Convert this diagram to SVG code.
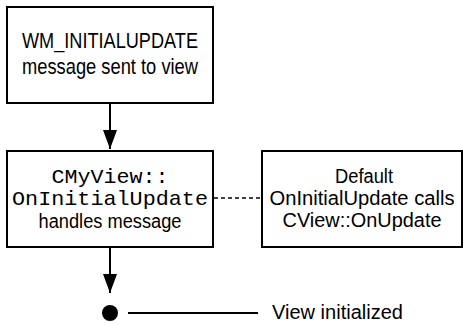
<svg xmlns="http://www.w3.org/2000/svg" width="463" height="325" viewBox="0 0 463 325">
  <defs>
    <marker id="arrow" markerUnits="userSpaceOnUse" markerWidth="20" markerHeight="16" viewBox="0 0 20 16" refX="19" refY="8" orient="auto">
      <path d="M0,1 L19,8 L0,15 Z" fill="#000"/>
    </marker>
    <style>
      .box { fill: #fff; stroke: #000; stroke-width: 2; }
      .sans { font-family: "Liberation Sans", Arial, sans-serif; font-size: 20px; fill: #000; text-anchor: middle; }
      .big { font-size: 22px; }
      .mono { font-family: "Liberation Mono", "Courier New", monospace; font-size: 21px; fill: #000; text-anchor: middle; }
      .flow { stroke: #000; stroke-width: 2; fill: none; }
      .dash { stroke: #000; stroke-width: 1.5; stroke-dasharray: 4 3; fill: none; }
    </style>
  </defs>

  <!-- connectors -->
  <g id="connectors">
    <line class="flow" x1="110" y1="103" x2="110" y2="149" marker-end="url(#arrow)"/>
    <line class="flow" x1="110" y1="247" x2="110" y2="293" marker-end="url(#arrow)"/>
    <line class="dash" x1="214" y1="198" x2="261" y2="198"/>
    <line class="flow" x1="128" y1="313" x2="258" y2="313"/>
  </g>

  <!-- message sent to the view -->
  <g id="wm-initialupdate">
    <rect class="box" x="7" y="7" width="206" height="96"/>
    <text class="sans big" x="110" y="48" textLength="176" lengthAdjust="spacingAndGlyphs">WM_INITIALUPDATE</text>
    <text class="sans big" x="110" y="74" textLength="176" lengthAdjust="spacingAndGlyphs">message sent to view</text>
  </g>

  <!-- view handler -->
  <g id="cmyview-oninitialupdate">
    <rect class="box" x="7" y="151" width="206" height="96"/>
    <text class="mono" x="110" y="183" textLength="117" lengthAdjust="spacingAndGlyphs">CMyView::</text>
    <text class="mono" x="110" y="205" textLength="196" lengthAdjust="spacingAndGlyphs">OnInitialUpdate</text>
    <text class="sans" x="110" y="228" textLength="143" lengthAdjust="spacingAndGlyphs">handles message</text>
  </g>

  <!-- default base-class behaviour -->
  <g id="default-oninitialupdate">
    <rect class="box" x="262" y="151" width="200" height="96"/>
    <text class="sans" x="364" y="183" textLength="58" lengthAdjust="spacingAndGlyphs">Default</text>
    <text class="sans" x="362" y="205" textLength="185" lengthAdjust="spacingAndGlyphs">OnInitialUpdate calls</text>
    <text class="sans" x="362" y="227" textLength="159" lengthAdjust="spacingAndGlyphs">CView::OnUpdate</text>
  </g>

  <!-- end state -->
  <g id="view-initialized">
    <circle cx="110" cy="313" r="8" fill="#000"/>
    <text class="sans" x="272" y="319" style="text-anchor:start" textLength="131" lengthAdjust="spacingAndGlyphs">View initialized</text>
  </g>
</svg>
